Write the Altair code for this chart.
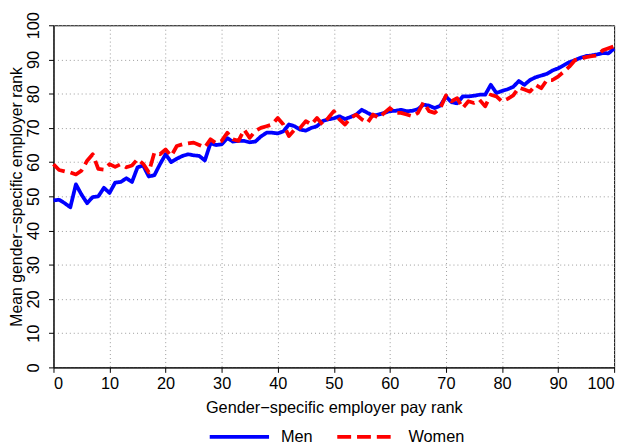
import altair as alt
import pandas as pd

rank = list(range(0, 101))
men = [48.8, 49.0, 48.0, 46.8, 53.5, 50.5, 48.0, 49.8, 50.0, 52.5,
       51.0, 54.0, 54.2, 55.3, 54.2, 58.5, 59.0, 55.8, 56.2, 59.4,
       62.3, 60.0, 61.0, 61.8, 62.3, 62.0, 61.8, 60.5, 65.5, 65.0,
       65.2, 67.0, 66.0, 66.2, 66.2, 65.8, 66.0, 67.5, 68.6, 68.6,
       68.4, 69.0, 71.0, 70.5, 69.5, 69.2, 70.0, 70.5, 72.0, 72.5,
       72.8, 73.4, 72.6, 73.2, 73.9, 75.3, 74.4, 73.6, 73.9, 74.4,
       74.9, 75.0, 75.3, 74.9, 75.0, 75.5, 76.8, 76.5, 75.8, 76.5,
       79.2, 77.5, 77.2, 79.2, 79.2, 79.4, 79.7, 79.7, 82.6, 80.2,
       80.8, 81.3, 82.0, 83.7, 82.6, 84.0, 84.8, 85.3, 85.8, 86.8,
       87.4, 88.3, 89.2, 89.8, 90.5, 91.0, 91.2, 91.5, 91.9, 91.8,
       93.2]
women = [59.4, 57.7, 57.3, 57.0, 56.4, 57.5, 60.4, 62.3, 58.0, 57.8,
         59.4, 58.6, 59.4, 58.5, 59.0, 60.9, 59.5, 57.0, 62.8, 62.3,
         63.7, 61.8, 64.7, 65.2, 65.5, 65.7, 65.0, 64.3, 66.7, 65.5,
         66.2, 68.6, 66.7, 66.2, 69.5, 67.1, 69.1, 70.0, 70.5, 71.0,
         72.9, 71.0, 67.6, 69.5, 70.0, 72.0, 71.0, 72.9, 71.0, 72.9,
         74.9, 72.5, 71.0, 72.9, 73.9, 72.5, 71.5, 73.9, 72.9, 74.4,
         75.8, 74.4, 74.4, 73.9, 73.4, 74.4, 77.5, 74.9, 74.4, 75.8,
         79.5, 77.8, 78.7, 75.8, 77.8, 77.3, 78.2, 76.3, 79.7, 79.2,
         77.7, 78.5, 79.5, 81.8, 81.2, 80.6, 82.6, 81.6, 84.0, 84.0,
         85.0, 86.4, 87.9, 89.8, 90.2, 90.7, 91.0, 91.2, 92.7, 93.3,
         93.9]
series = ["Men", "Women"]
colors = ["#0000ff", "#ff0000"]
dashes = [[1, 0], [14, 6]]
ticks = [0, 10, 20, 30, 40, 50, 60, 70, 80, 90, 100]

df = pd.DataFrame({
    "rank": rank + rank,
    "value": men + women,
    "series": ["Men"] * len(men) + ["Women"] * len(women),
})

FONT = "Liberation Sans"
FS = 16.5

legend = alt.Legend(
    title=None, orient="none", direction="horizontal",
    legendX=156, legendY=384,
    symbolType="stroke", symbolSize=3600, symbolStrokeWidth=4,
    labelFontSize=FS, labelFont=FONT, labelColor="black",
    labelOffset=10, columnPadding=16,
)

chart = alt.Chart(df).mark_line(strokeWidth=3.8, strokeJoin="round", strokeCap="butt").encode(
    x=alt.X("rank:Q", scale=alt.Scale(domain=[0, 100], nice=False, zero=False),
            axis=alt.Axis(values=ticks, title="Gender\u2212specific employer pay rank",
                          labelPadding=3, titlePadding=8)),
    y=alt.Y("value:Q", scale=alt.Scale(domain=[0, 100], nice=False, zero=False),
            axis=alt.Axis(values=ticks, title="Mean gender\u2212specific employer rank",
                          labelAngle=-90, labelAlign="center", labelBaseline="bottom",
                          labelPadding=7, titlePadding=1, titleFontSize=16)),
    color=alt.Color("series:N", scale=alt.Scale(domain=series, range=colors), legend=legend),
    strokeDash=alt.StrokeDash("series:N", scale=alt.Scale(domain=series, range=dashes), legend=legend),
    order=alt.Order("series:N"),
).properties(
    width=567, height=346,
    autosize=alt.AutoSizeParams(type="none"),
    padding={"left": 46, "top": 15, "right": 12, "bottom": 76},
    background="white",
).configure_view(
    stroke="black", strokeWidth=1,
).configure_axis(
    domainColor="black", tickColor="black", tickSize=5, tickWidth=1,
    labelColor="black", labelFont=FONT, labelFontSize=FS,
    titleColor="black", titleFont=FONT, titleFontSize=FS, titleFontWeight="normal",
    grid=True, gridColor="#9a9a9a", gridDash=[1, 3], gridWidth=1,
)

chart.save("out.html", embed_options={"renderer": "svg", "actions": False})
